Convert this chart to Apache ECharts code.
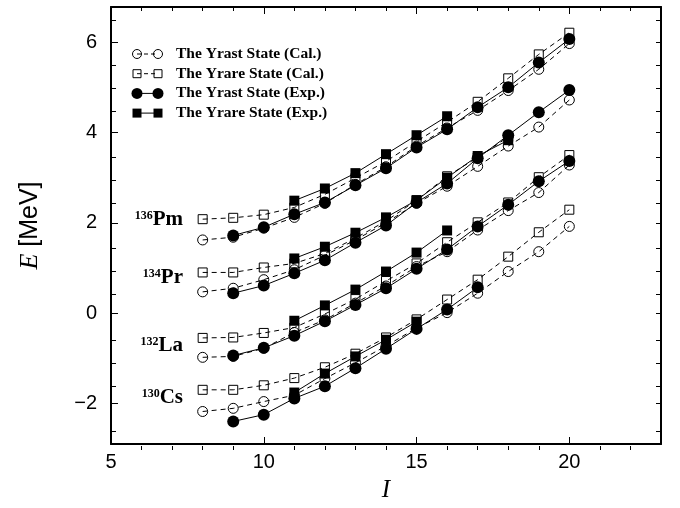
<!DOCTYPE html>
<html>
<head>
<meta charset="utf-8">
<title>Yrast and yrare states</title>
<script src="https://cdn.jsdelivr.net/npm/echarts@6/dist/echarts.min.js"></script>
<style>
  html, body { margin: 0; padding: 0; background: #fff; }
  #main { width: 680px; height: 508px; }
</style>
</head>
<body>
<div id="main"></div>
<script>
// spin I for every column below (null = no point)
const spins = [8, 9, 10, 11, 12, 13, 14, 15, 16, 17, 18, 19, 20];

// 136Pm
const pmYrastCal = [1.62, 1.68, 1.88, 2.12, 2.43, 2.85, 3.24, 3.70, 4.10, 4.49, 4.93, 5.40, 5.97];
const pmYrareCal = [2.08, 2.11, 2.18, 2.34, 2.63, 2.99, 3.36, 3.80, 4.23, 4.68, 5.20, 5.73, 6.21];
const pmYrastExp = [null, 1.72, 1.90, 2.19, 2.45, 2.83, 3.21, 3.67, 4.07, 4.56, 5.00, 5.55, 6.07];
const pmYrareExp = [null, null, null, 2.49, 2.76, 3.10, 3.52, 3.94, 4.36, null, null, null, null];

// 134Pr
const prYrastCal = [0.47, 0.55, 0.74, 0.96, 1.28, 1.62, 2.00, 2.43, 2.81, 3.25, 3.70, 4.12, 4.72];
const prYrareCal = [0.90, 0.90, 1.01, 1.10, 1.32, 1.66, 2.04, 2.50, 3.03, 3.45, 3.90, null, null];
const prYrastExp = [null, 0.44, 0.61, 0.88, 1.17, 1.56, 1.94, 2.45, 2.87, 3.43, 3.94, 4.45, 4.94];
const prYrareExp = [null, null, null, 1.21, 1.47, 1.78, 2.12, 2.50, 3.00, 3.48, 3.83, null, null];

// 132La
const laYrastCal = [-0.98, -0.96, -0.78, -0.43, -0.15, 0.22, 0.60, 1.03, 1.36, 1.84, 2.27, 2.67, 3.28];
const laYrareCal = [-0.55, -0.54, -0.44, -0.32, -0.02, 0.31, 0.71, 1.10, 1.57, 2.01, 2.45, 3.01, 3.50];
const laYrastExp = [null, -0.94, -0.77, -0.50, -0.18, 0.18, 0.55, 0.98, 1.41, 1.92, 2.40, 2.92, 3.37];
const laYrareExp = [null, null, null, -0.17, 0.17, 0.52, 0.92, 1.34, 1.83, null, null, null, null];

// 130Cs
const csYrastCal = [-2.18, -2.11, -1.96, -1.82, -1.45, -1.10, -0.73, -0.33, 0.01, 0.44, 0.92, 1.36, 1.92];
const csYrareCal = [-1.70, -1.70, -1.60, -1.44, -1.20, -0.90, -0.54, -0.14, 0.30, 0.74, 1.25, 1.79, 2.29];
const csYrastExp = [null, -2.40, -2.25, -1.89, -1.62, -1.22, -0.79, -0.35, 0.08, 0.57, null, null, null];
const csYrareExp = [null, null, null, -1.76, -1.34, -0.96, -0.59, -0.19, null, null, null, null, null];

const legendNames = ['The Yrast State (Cal.)', 'The Yrare State (Cal.)', 'The Yrast State (Exp.)', 'The Yrare State (Exp.)'];
const nucleusMass = ['136', '134', '132', '130'];
const nucleusName = ['Pm', 'Pr', 'La', 'Cs'];
const nucleusData = [
	[pmYrastCal, pmYrareCal, pmYrastExp, pmYrareExp],
	[prYrastCal, prYrareCal, prYrastExp, prYrareExp],
	[laYrastCal, laYrareCal, laYrastExp, laYrareExp],
	[csYrastCal, csYrareCal, csYrastExp, csYrareExp]
];

const xMajor = [5, 10, 15, 20];
const xMinor = [6, 7, 8, 9, 11, 12, 13, 14, 16, 17, 18, 19, 21, 22];
const yMajor = [-2, 0, 2, 4, 6];
const yMinor = [-2.5, -1.5, -1, -0.5, 0.5, 1, 1.5, 2.5, 3, 3.5, 4.5, 5, 5.5, 6.5];

(function() {
	// 1. init
	let myChart = echarts.init(document.getElementById('main'), null, { renderer: 'canvas' });

	// marker / line look of the four kinds of curve
	let kinds = [
		{ symbol: 'circle', size: 10, filled: false, dashed: true },
		{ symbol: 'rect', size: 9, filled: false, dashed: true },
		{ symbol: 'circle', size: 12, filled: true, dashed: false },
		{ symbol: 'rect', size: 10, filled: true, dashed: false }
	];

	let series = [];
	nucleusData.forEach(function(group) {
		group.forEach(function(values, k) {
			let kind = kinds[k];
			let data = [];
			spins.forEach(function(s, i) {
				if (values[i] !== null) data.push([s, values[i]]);
			});
			series.push({
				name: legendNames[k],
				type: 'line',
				xAxisIndex: 0,
				yAxisIndex: 0,
				symbol: kind.symbol,
				symbolSize: kind.size,
				showAllSymbol: true,
				silent: true,
				emphasis: { disabled: true },
				lineStyle: {
					color: '#000',
					width: 1,
					type: kind.dashed ? [5, 4] : 'solid'
				},
				itemStyle: {
					color: kind.filled ? '#000' : 'none',
					borderColor: '#000',
					borderWidth: kind.filled ? 0 : 1
				},
				data: data
			});
		});
	});

	// hand-drawn legend (markers at both ends of the line, like the figure)
	let graphics = [];
	legendNames.forEach(function(name, k) {
		let kind = kinds[k];
		let cy = 54 + k * 19.7;
		graphics.push({
			type: 'line',
			shape: { x1: 137, y1: cy, x2: 158, y2: cy },
			style: { stroke: '#000', lineWidth: 1, lineDash: kind.dashed ? [4, 3] : null }
		});
		[137, 158].forEach(function(cx) {
			let r = kind.size / 2 - 0.5;
			let st = kind.filled ? { fill: '#000' } : { fill: 'none', stroke: '#000', lineWidth: 1 };
			if (kind.symbol === 'circle') {
				graphics.push({ type: 'circle', shape: { cx: cx, cy: cy, r: r }, style: st });
			} else {
				graphics.push({ type: 'rect', shape: { x: cx - r, y: cy - r, width: 2 * r, height: 2 * r }, style: st });
			}
		});
		graphics.push({
			type: 'text',
			x: 176,
			y: cy,
			style: {
				text: name,
				fill: '#000',
				font: 'bold 15.5px "Liberation Serif", "Times New Roman", serif',
				textVerticalAlign: 'middle'
			}
		});
	});

	// nucleus labels on the left
	let labelY = [220, 278, 346, 398];
	nucleusName.forEach(function(el, n) {
		graphics.push({
			type: 'text',
			x: 183,
			y: labelY[n],
			style: {
				text: '{s|' + nucleusMass[n] + '}{e|' + el + '}',
				fill: '#000',
				textAlign: 'right',
				textVerticalAlign: 'middle',
				rich: {
					s: { fontFamily: 'Liberation Serif', fontWeight: 'bold', fontSize: 12, verticalAlign: 'top', fill: '#000' },
					e: { fontFamily: 'Liberation Serif', fontWeight: 'bold', fontSize: 21, fill: '#000' }
				}
			}
		});
	});

	let axisLine = { show: true, onZero: false, lineStyle: { color: '#000', width: 2 } };
	let noLine = { show: false, onZero: false };
	let gridBox = { left: 111, right: 19, top: 7, bottom: 58 };
	let labelFont = { color: '#000', fontSize: 20, fontFamily: 'Liberation Sans' };

	// 2. option
	let option = {
		animation: false,
		backgroundColor: '#fff',
		grid: [Object.assign({}, gridBox), Object.assign({}, gridBox)],
		xAxis: [
			{
				type: 'value', gridIndex: 0, position: 'bottom', min: 5, max: 23,
				axisLine: axisLine,
				axisTick: { show: true, inside: true, length: 7, customValues: xMajor, lineStyle: { color: '#000', width: 1 } },
				axisLabel: Object.assign({ customValues: xMajor, margin: 8 }, labelFont),
				splitLine: { show: false },
				name: 'I',
				nameLocation: 'middle',
				nameGap: 34,
				nameTextStyle: { color: '#000', fontSize: 25, fontFamily: 'Liberation Serif', fontStyle: 'italic' }
			},
			{
				type: 'value', gridIndex: 0, position: 'top', min: 5, max: 23,
				axisLine: axisLine,
				axisTick: { show: true, inside: true, length: 7, customValues: xMajor, lineStyle: { color: '#000', width: 1 } },
				axisLabel: { show: false },
				splitLine: { show: false }
			},
			{
				type: 'value', gridIndex: 1, position: 'bottom', min: 5, max: 23,
				axisLine: noLine,
				axisTick: { show: true, inside: true, length: 4, customValues: xMinor, lineStyle: { color: '#000', width: 1 } },
				axisLabel: { show: false },
				splitLine: { show: false }
			},
			{
				type: 'value', gridIndex: 1, position: 'top', min: 5, max: 23,
				axisLine: noLine,
				axisTick: { show: true, inside: true, length: 4, customValues: xMinor, lineStyle: { color: '#000', width: 1 } },
				axisLabel: { show: false },
				splitLine: { show: false }
			}
		],
		yAxis: [
			{
				type: 'value', gridIndex: 0, position: 'left', min: -2.9, max: 6.78,
				axisLine: axisLine,
				axisTick: { show: true, inside: true, length: 7, customValues: yMajor, lineStyle: { color: '#000', width: 1 } },
				axisLabel: Object.assign({
					customValues: yMajor,
					margin: 14,
					formatter: function(v) { return String(v).replace('-', '\u2212'); }
				}, labelFont),
				splitLine: { show: false },
				name: '{i|E} [MeV]',
				nameLocation: 'middle',
				nameGap: 68,
				nameTextStyle: {
					color: '#000', fontSize: 25, fontFamily: 'Liberation Sans',
					rich: { i: { fontSize: 26, fontFamily: 'Liberation Serif', fontStyle: 'italic', color: '#000' } }
				}
			},
			{
				type: 'value', gridIndex: 0, position: 'right', min: -2.9, max: 6.78,
				axisLine: axisLine,
				axisTick: { show: true, inside: true, length: 5, customValues: yMajor, lineStyle: { color: '#000', width: 1 } },
				axisLabel: { show: false },
				splitLine: { show: false }
			},
			{
				type: 'value', gridIndex: 1, position: 'left', min: -2.9, max: 6.78,
				axisLine: noLine,
				axisTick: { show: true, inside: true, length: 5, customValues: yMinor, lineStyle: { color: '#000', width: 1 } },
				axisLabel: { show: false },
				splitLine: { show: false }
			},
			{
				type: 'value', gridIndex: 1, position: 'right', min: -2.9, max: 6.78,
				axisLine: noLine,
				axisTick: { show: true, inside: true, length: 5, customValues: yMinor, lineStyle: { color: '#000', width: 1 } },
				axisLabel: { show: false },
				splitLine: { show: false }
			}
		],
		graphic: graphics,
		series: series
	};

	// 3. apply
	myChart.setOption(option);

	window.addEventListener('resize', function() {
		myChart.resize();
	});
})();
</script>
</body>
</html>
